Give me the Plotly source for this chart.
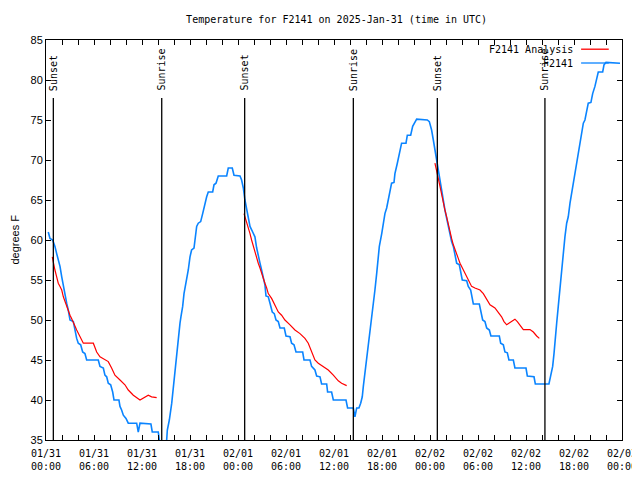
import plotly.graph_objects as go

# ---------------- data ----------------
obs_times = [
    "2025-01-31 00:17", "2025-01-31 00:30", "2025-01-31 00:50", "2025-01-31 01:07", "2025-01-31 01:20",
    "2025-01-31 01:32", "2025-01-31 01:45", "2025-01-31 01:58", "2025-01-31 02:10", "2025-01-31 02:22",
    "2025-01-31 02:35", "2025-01-31 02:47", "2025-01-31 03:00", "2025-01-31 03:25", "2025-01-31 03:37",
    "2025-01-31 03:50", "2025-01-31 04:02", "2025-01-31 04:20", "2025-01-31 04:35", "2025-01-31 04:52",
    "2025-01-31 05:05", "2025-01-31 06:32", "2025-01-31 06:45", "2025-01-31 07:10", "2025-01-31 07:22",
    "2025-01-31 07:35", "2025-01-31 07:47", "2025-01-31 08:05", "2025-01-31 08:20", "2025-01-31 08:30",
    "2025-01-31 09:07", "2025-01-31 09:15", "2025-01-31 09:27", "2025-01-31 09:40", "2025-01-31 10:00",
    "2025-01-31 10:17", "2025-01-31 11:20", "2025-01-31 11:32", "2025-01-31 11:45", "2025-01-31 13:07",
    "2025-01-31 13:17", "2025-01-31 14:02", "2025-01-31 14:10", "2025-01-31 14:30", "2025-01-31 14:52",
    "2025-01-31 15:05", "2025-01-31 15:10", "2025-01-31 15:25", "2025-01-31 15:43", "2025-01-31 15:55",
    "2025-01-31 16:07", "2025-01-31 16:15", "2025-01-31 16:25", "2025-01-31 16:32", "2025-01-31 16:45",
    "2025-01-31 16:52", "2025-01-31 17:05", "2025-01-31 17:15", "2025-01-31 17:30", "2025-01-31 17:47",
    "2025-01-31 18:00", "2025-01-31 18:12", "2025-01-31 18:30", "2025-01-31 18:37", "2025-01-31 18:50",
    "2025-01-31 19:02", "2025-01-31 19:20", "2025-01-31 19:35", "2025-01-31 19:47", "2025-01-31 20:05",
    "2025-01-31 20:17", "2025-01-31 20:50", "2025-01-31 21:00", "2025-01-31 21:15", "2025-01-31 21:32",
    "2025-01-31 22:35", "2025-01-31 22:47", "2025-01-31 23:17", "2025-01-31 23:30", "2025-02-01 00:15",
    "2025-02-01 00:27", "2025-02-01 00:40", "2025-02-01 00:52", "2025-02-01 01:05", "2025-02-01 01:17",
    "2025-02-01 01:30", "2025-02-01 01:50", "2025-02-01 02:07", "2025-02-01 02:20", "2025-02-01 02:32",
    "2025-02-01 02:45", "2025-02-01 02:57", "2025-02-01 03:10", "2025-02-01 03:22", "2025-02-01 03:30",
    "2025-02-01 03:47", "2025-02-01 04:00", "2025-02-01 04:17", "2025-02-01 04:32", "2025-02-01 04:45",
    "2025-02-01 05:02", "2025-02-01 05:15", "2025-02-01 05:47", "2025-02-01 06:00", "2025-02-01 06:30",
    "2025-02-01 06:42", "2025-02-01 07:00", "2025-02-01 07:15", "2025-02-01 08:05", "2025-02-01 08:15",
    "2025-02-01 09:00", "2025-02-01 09:12", "2025-02-01 09:37", "2025-02-01 09:50", "2025-02-01 10:15",
    "2025-02-01 10:27", "2025-02-01 11:05", "2025-02-01 11:12", "2025-02-01 11:42", "2025-02-01 11:55",
    "2025-02-01 13:30", "2025-02-01 13:42", "2025-02-01 14:25", "2025-02-01 14:37", "2025-02-01 14:50",
    "2025-02-01 15:07", "2025-02-01 15:20", "2025-02-01 15:32", "2025-02-01 15:40", "2025-02-01 15:52",
    "2025-02-01 16:05", "2025-02-01 16:17", "2025-02-01 16:30", "2025-02-01 16:42", "2025-02-01 16:55",
    "2025-02-01 17:07", "2025-02-01 17:20", "2025-02-01 17:32", "2025-02-01 17:40", "2025-02-01 17:58",
    "2025-02-01 18:10", "2025-02-01 18:22", "2025-02-01 18:35", "2025-02-01 18:47", "2025-02-01 19:00",
    "2025-02-01 19:12", "2025-02-01 19:30", "2025-02-01 19:37", "2025-02-01 19:55", "2025-02-01 20:10",
    "2025-02-01 20:27", "2025-02-01 21:00", "2025-02-01 21:10", "2025-02-01 21:35", "2025-02-01 21:50",
    "2025-02-01 22:20", "2025-02-01 23:40", "2025-02-01 23:55", "2025-02-02 00:12", "2025-02-02 00:25",
    "2025-02-02 00:37", "2025-02-02 00:50", "2025-02-02 01:02", "2025-02-02 01:15", "2025-02-02 01:27",
    "2025-02-02 01:40", "2025-02-02 01:52", "2025-02-02 02:05", "2025-02-02 02:17", "2025-02-02 02:30",
    "2025-02-02 02:42", "2025-02-02 02:55", "2025-02-02 03:07", "2025-02-02 03:20", "2025-02-02 03:40",
    "2025-02-02 03:50", "2025-02-02 04:02", "2025-02-02 04:35", "2025-02-02 04:47", "2025-02-02 05:05",
    "2025-02-02 05:12", "2025-02-02 05:25", "2025-02-02 06:10", "2025-02-02 06:20", "2025-02-02 06:35",
    "2025-02-02 06:52", "2025-02-02 07:05", "2025-02-02 07:25", "2025-02-02 07:37", "2025-02-02 08:40",
    "2025-02-02 08:50", "2025-02-02 09:10", "2025-02-02 09:22", "2025-02-02 09:40", "2025-02-02 09:52",
    "2025-02-02 10:25", "2025-02-02 10:37", "2025-02-02 12:00", "2025-02-02 12:10", "2025-02-02 13:00",
    "2025-02-02 13:10", "2025-02-02 14:52", "2025-02-02 15:05", "2025-02-02 15:20", "2025-02-02 15:30",
    "2025-02-02 15:37", "2025-02-02 15:50", "2025-02-02 16:02", "2025-02-02 16:15", "2025-02-02 16:27",
    "2025-02-02 16:40", "2025-02-02 16:52", "2025-02-02 17:05", "2025-02-02 17:17", "2025-02-02 17:30",
    "2025-02-02 17:42", "2025-02-02 17:55", "2025-02-02 18:07", "2025-02-02 18:20", "2025-02-02 18:32",
    "2025-02-02 18:45", "2025-02-02 18:57", "2025-02-02 19:10", "2025-02-02 19:22", "2025-02-02 19:35",
    "2025-02-02 19:47", "2025-02-02 20:07", "2025-02-02 20:20", "2025-02-02 20:37", "2025-02-02 20:50",
    "2025-02-02 21:02", "2025-02-02 21:35", "2025-02-02 21:45", "2025-02-02 22:00", "2025-02-02 23:45",
]
obs_temps = [
    61.0, 60.2, 60.0, 59.2, 58.3, 57.5, 56.7, 55.4, 54.2, 52.9,
    52.1, 51.25, 50.0, 49.8, 48.75, 47.7, 47.1, 46.9, 46.0, 45.8,
    45.0, 45.0, 44.2, 44.0, 43.1, 42.9, 42.1, 41.9, 41.0, 40.0,
    40.0, 39.2, 38.75, 38.1, 37.7, 37.1, 37.1, 36.0, 37.1, 37.0,
    36.0, 36.0, 35.0, 34.3, 34.3, 35.0, 36.25, 37.5, 39.6, 41.7,
    42.9, 45.0, 46.7, 47.9, 49.6, 50.4, 51.7, 53.3, 54.6, 56.25,
    57.9, 58.75, 59.0, 60.0, 61.7, 62.1, 62.3, 63.3, 64.2, 65.4,
    66.0, 66.0, 66.9, 67.1, 68.0, 68.0, 69.0, 69.0, 68.1, 68.0,
    67.5, 66.5, 65.0, 63.75, 62.5, 61.7, 61.0, 60.4, 59.0, 57.9,
    57.1, 56.25, 55.2, 54.4, 53.0, 52.9, 52.1, 51.0, 50.8, 50.0,
    49.8, 49.0, 49.0, 48.0, 47.9, 47.1, 46.9, 46.0, 46.0, 45.0,
    45.0, 44.2, 43.75, 43.0, 42.9, 42.0, 42.0, 41.0, 41.0, 40.0,
    40.0, 39.0, 39.0, 37.9, 39.0, 39.0, 39.6, 40.4, 41.7, 43.3,
    45.4, 47.1, 48.75, 50.4, 52.1, 53.75, 55.8, 57.5, 59.2, 60.8,
    62.1, 63.3, 64.0, 65.0, 65.8, 67.1, 67.2, 68.3, 69.6, 70.8,
    72.1, 72.1, 73.1, 73.1, 74.2, 75.1, 75.0, 74.8, 73.75, 72.5,
    71.25, 70.0, 68.75, 67.7, 66.5, 65.0, 63.75, 62.7, 61.7, 60.6,
    59.8, 59.2, 58.3, 57.1, 56.9, 56.0, 55.0, 54.9, 54.2, 53.75,
    52.9, 52.0, 52.0, 51.25, 50.0, 49.8, 49.0, 48.75, 48.0, 48.0,
    47.1, 46.9, 46.0, 45.9, 45.0, 45.0, 44.0, 44.0, 43.0, 42.9,
    42.0, 42.0, 42.9, 44.2, 45.8, 47.5, 49.6, 51.7, 54.0, 56.7,
    58.3, 60.4, 62.1, 62.9, 64.6, 65.8, 67.1, 68.3, 69.6, 70.6,
    71.7, 72.9, 74.6, 75.0, 76.25, 77.1, 77.2, 78.3, 79.2, 80.0,
    81.0, 81.0, 81.9, 82.2, 82.1,
]

ana_times = [
    "2025-01-31 00:47", "2025-01-31 00:55", "2025-01-31 01:07", "2025-01-31 01:20", "2025-01-31 01:32",
    "2025-01-31 01:45", "2025-01-31 01:58", "2025-01-31 02:10", "2025-01-31 02:22", "2025-01-31 02:35",
    "2025-01-31 02:47", "2025-01-31 03:00", "2025-01-31 03:12", "2025-01-31 03:25", "2025-01-31 03:37",
    "2025-01-31 03:50", "2025-01-31 04:02", "2025-01-31 04:15", "2025-01-31 04:27", "2025-01-31 04:40",
    "2025-01-31 05:55", "2025-01-31 06:07", "2025-01-31 06:20", "2025-01-31 06:45", "2025-01-31 07:10",
    "2025-01-31 07:47", "2025-01-31 08:12", "2025-01-31 08:37", "2025-01-31 09:15", "2025-01-31 09:52",
    "2025-01-31 10:17", "2025-01-31 10:55", "2025-01-31 11:45", "2025-01-31 12:10", "2025-01-31 12:47",
    "2025-01-31 13:12", "2025-01-31 13:50",
    None,
    "2025-02-01 00:45", "2025-02-01 01:00", "2025-02-01 01:17", "2025-02-01 01:30", "2025-02-01 01:42",
    "2025-02-01 01:55", "2025-02-01 02:07", "2025-02-01 02:20", "2025-02-01 02:32", "2025-02-01 02:45",
    "2025-02-01 02:57", "2025-02-01 03:10", "2025-02-01 03:22", "2025-02-01 03:35", "2025-02-01 03:47",
    "2025-02-01 04:12", "2025-02-01 04:37", "2025-02-01 05:02", "2025-02-01 05:27", "2025-02-01 05:52",
    "2025-02-01 06:30", "2025-02-01 07:07", "2025-02-01 07:45", "2025-02-01 08:22", "2025-02-01 08:47",
    "2025-02-01 09:12", "2025-02-01 09:37", "2025-02-01 10:02", "2025-02-01 10:40", "2025-02-01 11:17",
    "2025-02-01 11:55", "2025-02-01 12:32", "2025-02-01 12:57", "2025-02-01 13:35",
    None,
    "2025-02-02 00:37", "2025-02-02 00:50", "2025-02-02 01:02", "2025-02-02 01:15", "2025-02-02 01:27",
    "2025-02-02 01:40", "2025-02-02 01:52", "2025-02-02 02:05", "2025-02-02 02:17", "2025-02-02 02:30",
    "2025-02-02 02:42", "2025-02-02 02:55", "2025-02-02 03:07", "2025-02-02 03:20", "2025-02-02 03:32",
    "2025-02-02 03:45", "2025-02-02 03:57", "2025-02-02 04:10", "2025-02-02 04:22", "2025-02-02 04:35",
    "2025-02-02 04:47", "2025-02-02 05:00", "2025-02-02 05:12", "2025-02-02 05:37", "2025-02-02 06:15",
    "2025-02-02 06:40", "2025-02-02 07:05", "2025-02-02 07:30", "2025-02-02 08:07", "2025-02-02 08:32",
    "2025-02-02 08:57", "2025-02-02 09:15", "2025-02-02 09:35", "2025-02-02 10:00", "2025-02-02 10:37",
    "2025-02-02 10:55", "2025-02-02 11:20", "2025-02-02 11:40", "2025-02-02 12:30", "2025-02-02 12:55",
    "2025-02-02 13:20", "2025-02-02 13:40",
]
ana_temps = [
    57.9, 57.1, 56.25, 55.4, 54.6, 54.2, 53.75, 52.9, 52.3, 51.7,
    51.25, 50.6, 50.2, 49.8, 49.25, 48.75, 48.3, 47.9, 47.5, 47.1,
    47.1, 46.5, 46.0, 45.4, 45.2, 44.8, 44.0, 43.1, 42.5, 41.9,
    41.25, 40.6, 40.0, 40.2, 40.6, 40.4, 40.3,
    None,
    63.3, 62.5, 61.7, 60.8, 60.0, 59.2, 58.5, 57.7, 57.1, 56.5,
    55.8, 55.2, 54.6, 54.0, 53.3, 52.7, 51.9, 51.0, 50.6, 50.0,
    49.4, 48.75, 48.3, 47.7, 47.1, 46.0, 45.0, 44.6, 44.2, 43.75,
    43.1, 42.4, 42.1, 41.8,
    None,
    69.6, 68.75, 67.7, 66.7, 65.6, 64.6, 63.75, 62.9, 61.9, 61.0,
    60.2, 59.4, 58.75, 58.1, 57.7, 57.1, 56.7, 56.25, 55.8, 55.4,
    55.0, 54.6, 54.2, 54.0, 53.75, 53.3, 52.5, 51.9, 51.5, 51.0,
    50.4, 49.8, 49.4, 49.7, 50.1, 49.8, 49.25, 48.8, 48.8, 48.5,
    48.0, 47.7,
]

sun_times = ["2025-01-31 00:55", "2025-01-31 14:28", "2025-02-01 00:50",
             "2025-02-01 14:25", "2025-02-02 00:55", "2025-02-02 14:22"]
sun_labels = ["Sunset", "Sunrise", "Sunset", "Sunrise", "Sunset", "Sunrise"]

tick_vals = ["2025-01-31 00:00", "2025-01-31 06:00", "2025-01-31 12:00", "2025-01-31 18:00",
             "2025-02-01 00:00", "2025-02-01 06:00", "2025-02-01 12:00", "2025-02-01 18:00",
             "2025-02-02 00:00", "2025-02-02 06:00", "2025-02-02 12:00", "2025-02-02 18:00",
             "2025-02-03 00:00"]
tick_text = ["01/31<br>00:00", "01/31<br>06:00", "01/31<br>12:00", "01/31<br>18:00",
             "02/01<br>00:00", "02/01<br>06:00", "02/01<br>12:00", "02/01<br>18:00",
             "02/02<br>00:00", "02/02<br>06:00", "02/02<br>12:00", "02/02<br>18:00",
             "02/03<br>00:00"]
y_ticks = [35, 40, 45, 50, 55, 60, 65, 70, 75, 80, 85]

series_names = ["F2141 Analysis", "F2141"]
series_colors = ["#ff0000", "#0a84ff"]

MONO = "DejaVu Sans Mono"
SANS = "Liberation Sans"

# ---------------- figure ----------------
fig = go.Figure()
fig.add_trace(go.Scatter(x=obs_times, y=obs_temps, mode="lines",
                         line=dict(color=series_colors[1], width=1.6),
                         name=series_names[1], showlegend=False))
fig.add_trace(go.Scatter(x=ana_times, y=ana_temps, mode="lines",
                         line=dict(color=series_colors[0], width=1.2),
                         connectgaps=False, name=series_names[0], showlegend=False))

shapes = []
annotations = []
for t, lab in zip(sun_times, sun_labels):
    shapes.append(dict(type="line", xref="x", yref="y", x0=t, x1=t, y0=35, y1=77.75,
                       line=dict(color="black", width=1.3)))
    annotations.append(dict(x=t, y=78.4, xref="x", yref="y", text=lab, showarrow=False,
                            textangle=-90, xanchor="center", yanchor="bottom",
                            font=dict(family=MONO, size=10, color="black")))

# manual gnuplot-style legend (text left of sample)
leg_y = [0.977, 0.9425]
for name, col, yy in zip(series_names, series_colors, leg_y):
    annotations.append(dict(x=0.919, y=yy, xref="paper", yref="paper", text=name,
                            showarrow=False, xanchor="right", yanchor="middle",
                            font=dict(family=MONO, size=10, color="black")))
    shapes.append(dict(type="line", xref="paper", yref="paper", x0=0.929, x1=0.977,
                       y0=yy, y1=yy, line=dict(color=col, width=1.3)))

annotations.append(dict(x=-0.0545, y=0.5, xref="paper", yref="paper", text="degrees F",
                        showarrow=False, textangle=-90, xanchor="center", yanchor="middle",
                        font=dict(family=SANS, size=11, color="black")))

# page body has an 8px margin, so the figure is 632x472 and offset by 8px
fig.update_layout(
    width=632, height=472,
    margin=dict(l=38, r=18, t=32, b=40, autoexpand=False),
    paper_bgcolor="white", plot_bgcolor="white",
    title=dict(text="Temperature for F2141 on 2025-Jan-31 (time in UTC)",
               x=0.52, xanchor="center", y=0.975, yanchor="middle",
               font=dict(family=MONO, size=10, color="black")),
    shapes=shapes, annotations=annotations,
    xaxis=dict(type="date", range=["2025-01-31 00:00", "2025-02-03 00:00"],
               tickvals=tick_vals, ticktext=tick_text, automargin=False,
               ticks="inside", ticklen=5, tickcolor="black", ticklabelstandoff=4,
               minor=dict(dtick=2 * 3600000, tick0="2025-01-31", ticks="inside",
                          ticklen=5, tickcolor="black", showgrid=False),
               showline=True, linecolor="black", linewidth=1, mirror="allticks",
               showgrid=False, zeroline=False,
               tickfont=dict(family=MONO, size=10, color="black")),
    yaxis=dict(range=[35, 85], tickvals=y_ticks, ticks="inside", ticklen=5,
               tickcolor="black", showline=True, linecolor="black", linewidth=1,
               mirror="allticks", showgrid=False, zeroline=False, automargin=False,
               tickfont=dict(family=SANS, size=11, color="black")),
)

fig.write_html("out.html")
